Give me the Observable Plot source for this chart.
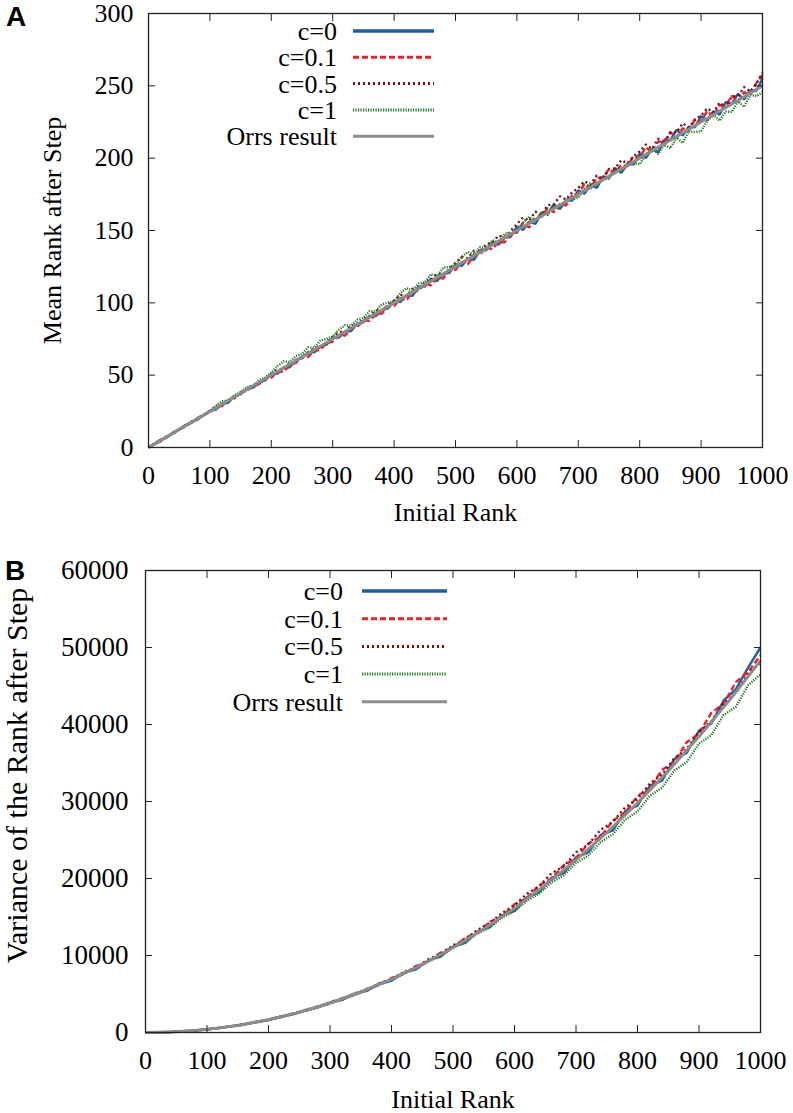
<!DOCTYPE html>
<html>
<head>
<meta charset="utf-8">
<script src="https://cdn.jsdelivr.net/npm/d3@7"></script>
<script src="https://cdn.jsdelivr.net/npm/@observablehq/plot@0.6"></script>
<style>
  body { margin: 0; background: #fff; }
  #wrap { position: relative; width: 793px; height: 1113px; overflow: hidden; background: #fff; }
  .panel { position: absolute; left: 0; }
  .letter { position: absolute; font-family: "Liberation Sans", Arial, "DejaVu Sans", sans-serif; font-weight: bold; font-size: 28px; color: #000; line-height: 1; }
  .legend { position: absolute; left: 0; top: 0; }
</style>
</head>
<body>
<div id="wrap"></div>
<script>
// ---------------- DATA ----------------
const seriesNames  = ["c=0", "c=0.1", "c=0.5", "c=1", "Orrs result"];
const seriesColors = ["#1d5fa6", "#e3242b", "#7b0d14", "#1f7a1f", "#8c8c8c"];
const seriesDash   = [null, "6,3", "2,3", "1.2,1.3", null];
const seriesWidth  = [2.4, 2.4, 2.4, 2.4, 3];

const xTicks  = [0, 100, 200, 300, 400, 500, 600, 700, 800, 900, 1000];
const yTicksA = [0, 50, 100, 150, 200, 250, 300];
const yTicksB = [0, 10000, 20000, 30000, 40000, 50000, 60000];

// Panel A: mean rank after step, sampled every 10 ranks
const rankA = d3.range(0, 1001, 10);
const meanC0 = [
  0, 2.2, 5.2, 7.0, 10.4, 12.3, 15.5, 17.1, 20.1, 22.2,
  25.4, 26.3, 29.9, 31.0, 35.3, 36.7, 40.5, 41.2, 44.7, 46.4,
  50.9, 51.0, 55.1, 55.5, 60.7, 61.6, 66.0, 65.8, 69.8, 71.1,
  75.9, 76.0, 80.1, 80.5, 85.7, 86.6, 91.0, 90.8, 94.8, 96.1,
  101.5, 100.5, 105.4, 104.8, 111.3, 111.3, 116.7, 115.2, 119.9, 120.7,
  126.5, 125.5, 130.4, 129.8, 136.3, 136.3, 141.7, 140.2, 144.9, 145.7,
  152.7, 150.4, 156.2, 154.5, 162.4, 161.6, 168.0, 165.1, 170.6, 170.7,
  177.7, 175.4, 181.2, 179.5, 187.4, 186.6, 193.0, 190.1, 195.6, 195.7,
  203.2, 200.1, 206.4, 204.0, 212.8, 212.5, 219.5, 215.7, 221.7, 221.4,
  229.2, 226.1, 232.4, 230.0, 238.8, 237.5, 244.5, 240.7, 246.7, 246.4,
  255.0
];
const meanC01 = [
  0, 2.7, 4.2, 7.5, 9.6, 12.7, 14.3, 17.4, 19.3, 22.6,
  24.2, 28.1, 28.7, 32.8, 34.5, 38.2, 38.9, 42.5, 43.8, 47.9,
  48.1, 52.7, 52.3, 57.2, 58.5, 62.8, 62.6, 66.8, 67.5, 72.4,
  73.1, 77.7, 77.3, 82.2, 83.5, 87.8, 87.6, 91.8, 92.5, 97.4,
  97.7, 103.3, 101.6, 107.6, 108.4, 113.5, 112.0, 117.0, 116.8, 122.8,
  122.7, 128.3, 126.6, 132.6, 133.4, 138.5, 137.0, 142.0, 141.8, 147.8,
  148.5, 155.2, 152.0, 159.3, 159.4, 165.5, 162.6, 168.4, 167.3, 174.6,
  175.5, 182.2, 179.0, 186.3, 186.4, 192.5, 189.6, 195.4, 194.3, 201.6,
  200.3, 207.7, 203.5, 211.6, 211.3, 218.0, 214.2, 220.6, 218.9, 227.0,
  225.3, 232.7, 228.5, 236.6, 236.3, 243.0, 239.2, 245.6, 243.9, 252.0,
  257.5
];
const meanC05 = [
  0, 3.0, 4.7, 7.9, 9.5, 12.8, 14.9, 18.0, 19.7, 22.6,
  25.3, 28.5, 29.4, 33.2, 34.0, 38.0, 39.8, 43.4, 44.3, 47.6,
  50.5, 54.0, 54.1, 58.6, 58.5, 63.3, 64.7, 68.9, 69.0, 72.7,
  76.3, 79.8, 79.9, 84.4, 84.3, 89.1, 90.5, 94.7, 94.8, 98.5,
  101.5, 105.5, 104.5, 109.8, 108.6, 114.4, 115.4, 120.3, 119.3, 123.5,
  127.7, 131.7, 130.7, 136.0, 134.8, 140.6, 141.6, 146.5, 145.5, 149.7,
  154.4, 159.0, 156.7, 163.1, 160.5, 167.5, 167.9, 173.7, 171.4, 176.3,
  179.4, 184.0, 181.7, 188.1, 185.5, 192.5, 192.9, 198.7, 196.4, 201.3,
  204.6, 209.5, 206.4, 213.5, 210.0, 217.8, 217.8, 224.2, 221.1, 226.4,
  229.6, 234.5, 231.4, 238.5, 235.0, 242.8, 242.8, 249.2, 246.1, 251.4,
  259.0
];
const meanC1 = [
  0, 3.0, 5.7, 7.3, 10.3, 12.4, 15.6, 17.2, 20.5, 22.6,
  25.2, 29.0, 32.0, 32.6, 36.2, 37.9, 41.8, 42.5, 46.6, 48.2,
  51.8, 56.3, 59.5, 59.2, 63.3, 64.6, 69.2, 69.0, 73.9, 75.1,
  76.8, 81.3, 84.5, 84.2, 88.3, 89.6, 94.2, 94.0, 98.9, 100.1,
  101.2, 106.6, 110.2, 108.5, 113.4, 114.2, 119.8, 118.3, 124.3, 124.8,
  126.2, 131.6, 135.2, 133.5, 138.4, 137.7, 143.3, 141.8, 147.8, 148.3,
  149.1, 155.5, 159.5, 156.3, 162.1, 160.7, 167.4, 164.5, 171.8, 171.6,
  172.6, 179.0, 183.0, 179.8, 185.6, 185.7, 192.4, 189.5, 196.8, 196.6,
  195.7, 202.8, 207.0, 202.9, 209.2, 206.9, 214.3, 210.5, 218.6, 218.0,
  218.7, 225.8, 230.0, 225.9, 232.2, 231.9, 239.3, 235.5, 243.6, 243.0,
  245.5
];
const orrRankA = [0, 100, 200, 300, 400, 500, 600, 700, 800, 900, 1000];
const orrMean  = [0, 25, 50, 75, 100, 125, 150, 175, 200, 225, 250];

// Panel B: variance of the rank after step, sampled every 20 ranks
const rankB = d3.range(0, 1001, 20);
const varC0 = [
  0, 19, 59, 153, 248, 420, 569, 822, 1027, 1367,
  1617, 2058, 2346, 2885, 3221, 3865, 4227, 4997, 5396, 6295,
  6722, 7740, 8199, 9358, 9848, 11150, 11644, 13111, 13680, 15233,
  15800, 17560, 18215, 20066, 20682, 22753, 23390, 25645, 26256, 28735,
  29461, 32036, 32710, 35532, 36304, 39226, 40099, 43122, 44596, 47422,
  50000
];
const varC01 = [
  0, 14, 70, 139, 270, 396, 607, 787, 1087, 1317,
  1707, 1983, 2476, 2795, 3391, 3745, 4457, 4847, 5676, 6145,
  7082, 7590, 8639, 9208, 10378, 11050, 12294, 13031, 14380, 15113,
  16650, 17460, 19115, 19966, 21712, 22653, 24540, 25425, 27506, 28535,
  30711, 31686, 34110, 35132, 37704, 38826, 41499, 42722, 45496, 46822,
  49000
];
const varC05 = [
  0, 20, 61, 155, 250, 421, 577, 827, 1037, 1377,
  1637, 2073, 2376, 2915, 3281, 3905, 4307, 5057, 5546, 6365,
  6932, 7840, 8479, 9498, 10198, 11320, 12094, 13331, 14210, 15533,
  16500, 18010, 18965, 20666, 21562, 23403, 24390, 26325, 27356, 29235,
  30311, 32336, 33510, 35632, 36804, 39026, 40399, 42722, 44096, 46622,
  48100
];
const varC1 = [
  0, 18, 60, 152, 252, 418, 582, 824, 1057, 1377,
  1677, 2093, 2446, 2955, 3361, 3955, 4427, 5087, 5606, 6355,
  6922, 7760, 8379, 9298, 9978, 11000, 11744, 12881, 13660, 14933,
  15750, 17110, 18015, 19466, 20412, 22003, 22990, 24725, 25756, 27635,
  28711, 30736, 31810, 34032, 35104, 37526, 38599, 41222, 42296, 45122,
  46500
];
const orrRankB = [0, 50, 100, 150, 200, 250, 300, 350, 400, 450, 500, 550, 600, 650, 700, 750, 800, 850, 900, 950, 1000];
const orrVar   = [0, 100, 406, 922, 1657, 2615, 3805, 5232, 6902, 8823, 11000, 13440, 16150, 19135, 22403, 25959, 29811, 33965, 38426, 43202, 48300];

// ---------------- FONT ----------------
function pickFont(cands) {
  const ctx = document.createElement("canvas").getContext("2d");
  const s = "Orrs result 0123456789 Mean Rank after Step";
  for (const f of cands) {
    for (const fb of ["monospace", "sans-serif"]) {
      ctx.font = `26px ${fb}`;
      const w0 = ctx.measureText(s).width;
      ctx.font = `26px "${f}", ${fb}`;
      const w1 = ctx.measureText(s).width;
      if (Math.abs(w0 - w1) > 0.5) return `"${f}"`;
    }
  }
  return "serif";
}
const SERIF = pickFont(["Liberation Serif", "Tinos", "Times New Roman", "Nimbus Roman", "Nimbus Roman No9 L", "FreeSerif", "Noto Serif", "DejaVu Serif"]);
function forceFont(root) {
  root.querySelectorAll("text").forEach(t => {
    t.style.setProperty("font-family", SERIF, "important");
    t.style.setProperty("font-variant", "normal", "important");
  });
}

// ---------------- DRAWING ----------------
const wrap = document.getElementById("wrap");
const fmt = d => String(d);

function seriesLines(pairs) {
  return pairs.map(([xs, ys], i) =>
    Plot.line(ys.map((v, j) => [xs[j], v]), {
      stroke: seriesColors[i],
      strokeWidth: seriesWidth[i],
      strokeDasharray: seriesDash[i],
      strokeLinejoin: "miter",
      strokeLinecap: "butt"
    })
  );
}

function panel(cfg) {
  const p = Plot.plot({
    width: 793,
    height: cfg.height,
    marginLeft: cfg.ml, marginRight: cfg.mr, marginTop: cfg.mt, marginBottom: cfg.mb,
    style: { fontFamily: SERIF, fontSize: "26px", color: "#000", background: "#fff", overflow: "visible" },
    x: { domain: [0, 1000] },
    y: { domain: cfg.yDomain },
    marks: [
      ...seriesLines(cfg.series),
      Plot.frame({ stroke: "#222", strokeWidth: 1.3 }),
      Plot.axisX(xTicks, { anchor: "bottom", tickSize: -7, tickPadding: 25, tickFormat: fmt, label: null, fontSize: 26, stroke: "#222", fontVariant: "normal" }),
      Plot.axisX(xTicks, { anchor: "top", tickSize: -7, tickFormat: () => "", label: null, stroke: "#222" }),
      Plot.axisY(cfg.yTicks, { anchor: "left", tickSize: -7, tickPadding: cfg.yPad, tickFormat: fmt, label: null, fontSize: cfg.yFont, stroke: "#222", fontVariant: "normal" }),
      Plot.axisY(cfg.yTicks, { anchor: "right", tickSize: -7, tickFormat: () => "", label: null, stroke: "#222" }),
      Plot.text(["Initial Rank"], { text: d => d, frameAnchor: "bottom", textAnchor: "middle", lineAnchor: "middle", dy: cfg.xLabelDy, fontSize: 26 }),
      Plot.text([cfg.yLabel], { text: d => d, frameAnchor: "left", textAnchor: "middle", lineAnchor: "middle", rotate: -90, dx: cfg.yLabelDx, dy: cfg.yLabelDy, fontSize: cfg.yLabelFont })
    ]
  });
  p.classList.add("panel");
  p.style.top = cfg.top + "px";
  forceFont(p);
  wrap.appendChild(p);

  // legend (inside the plot area, gnuplot style)
  const ns = "http://www.w3.org/2000/svg";
  const lg = document.createElementNS(ns, "svg");
  lg.setAttribute("class", "legend");
  lg.setAttribute("width", 793);
  lg.setAttribute("height", cfg.height);
  lg.style.top = cfg.top + "px";
  seriesNames.forEach((name, i) => {
    const cy = cfg.lgY0 + i * cfg.lgDy;
    const t = document.createElementNS(ns, "text");
    t.setAttribute("x", cfg.lgTextRight);
    t.setAttribute("y", cy + 9);
    t.setAttribute("text-anchor", "end");
    t.setAttribute("font-size", 26);
    t.textContent = name;
    lg.appendChild(t);
    const l = document.createElementNS(ns, "line");
    l.setAttribute("x1", cfg.lgX1); l.setAttribute("x2", cfg.lgX2);
    l.setAttribute("y1", cy); l.setAttribute("y2", cy);
    l.setAttribute("stroke", seriesColors[i]);
    l.setAttribute("stroke-width", i === 0 ? 3.5 : 3);
    if (seriesDash[i]) l.setAttribute("stroke-dasharray", seriesDash[i]);
    lg.appendChild(l);
  });
  forceFont(lg);
  wrap.appendChild(lg);

  const letter = document.createElement("div");
  letter.className = "letter";
  letter.textContent = cfg.letter;
  letter.style.left = cfg.letterX + "px";
  letter.style.top = (cfg.top + cfg.letterY) + "px";
  wrap.appendChild(letter);
}

panel({
  top: 0, height: 530, ml: 148, mr: 31, mt: 13, mb: 83,
  yDomain: [0, 300], yTicks: yTicksA, yPad: 22, yFont: 26,
  xLabelDy: 65,
  yLabel: "Mean Rank after Step", yLabelDx: -96, yLabelDy: 0, yLabelFont: 26,
  series: [[rankA, meanC0], [rankA, meanC01], [rankA, meanC05], [rankA, meanC1], [orrRankA, orrMean]],
  lgY0: 31, lgDy: 26.3, lgTextRight: 337, lgX1: 353, lgX2: 434,
  letter: "A", letterX: 6, letterY: 3
});

panel({
  top: 530, height: 583, ml: 145, mr: 33, mt: 40, mb: 81,
  yDomain: [0, 60000], yTicks: yTicksB, yPad: 24, yFont: 27,
  xLabelDy: 67,
  yLabel: "Variance of the Rank after Step", yLabelDx: -128, yLabelDy: -26, yLabelFont: 30,
  series: [[rankB, varC0], [rankB, varC01], [rankB, varC05], [rankB, varC1], [orrRankB, orrVar]],
  lgY0: 61, lgDy: 27.7, lgTextRight: 343, lgX1: 362, lgX2: 447,
  letter: "B", letterX: 5, letterY: 27
});
</script>
</body>
</html>
